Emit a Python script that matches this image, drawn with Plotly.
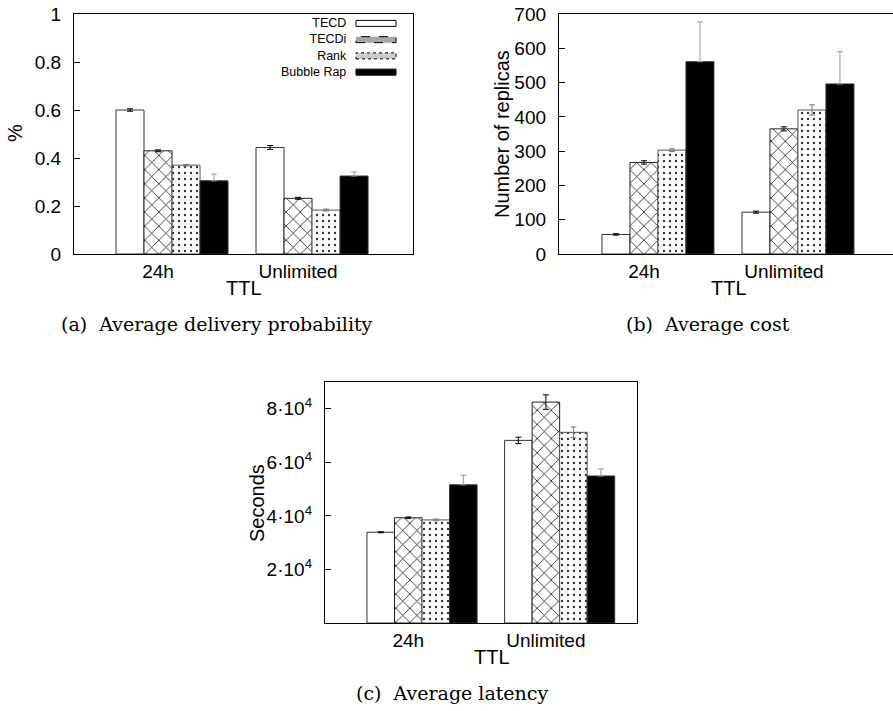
import plotly.graph_objects as go

W, H = 893, 711

categories = ["24h", "Unlimited"]
series = ["TECD", "TECDi", "Rank", "Bubble Rap"]

# (a) Average delivery probability
prob = {
    "TECD": [0.600, 0.444],
    "TECDi": [0.430, 0.232],
    "Rank": [0.370, 0.183],
    "Bubble Rap": [0.305, 0.325],
}
prob_err = {
    "TECD": [0.005, 0.008],
    "TECDi": [0.004, 0.004],
    "Rank": [0.003, 0.004],
    "Bubble Rap": [0.028, 0.017],
}

# (b) Average cost
cost = {
    "TECD": [57, 122],
    "TECDi": [267, 365],
    "Rank": [303, 420],
    "Bubble Rap": [561, 496],
}
cost_err = {
    "TECD": [2, 3],
    "TECDi": [5, 6],
    "Rank": [4, 15],
    "Bubble Rap": [116, 94],
}

# (c) Average latency
latency = {
    "TECD": [33900, 68200],
    "TECDi": [39300, 82500],
    "Rank": [38500, 71200],
    "Bubble Rap": [51600, 54900],
}
latency_err = {
    "TECD": [200, 1200],
    "TECDi": [300, 2700],
    "Rank": [300, 2000],
    "Bubble Rap": [3600, 2600],
}

prob_ticks = [0, 0.2, 0.4, 0.6, 0.8, 1]
prob_ticktext = ["0", "0.2", "0.4", "0.6", "0.8", "1"]
cost_ticks = [0, 100, 200, 300, 400, 500, 600, 700]
lat_ticks = [20000, 40000, 60000, 80000]
lat_ticktext = ["2·10<sup>4</sup>", "4·10<sup>4</sup>", "6·10<sup>4</sup>", "8·10<sup>4</sup>"]

SANS = "Liberation Sans"
SERIF = "DejaVu Serif"
FS = 19
TITLE_FS = 20

styles = {
    "TECD": dict(color="white", line=dict(color="#333333", width=1)),
    "TECDi": dict(color="white", line=dict(color="#222222", width=1),
                  pattern=dict(shape="x", fgcolor="black", bgcolor="white", size=10, solidity=0.14)),
    "Rank": dict(color="white", line=dict(color="#555555", width=1),
                 pattern=dict(shape=".", fgcolor="#333333", bgcolor="white", size=6, solidity=0.12)),
    "Bubble Rap": dict(color="black", line=dict(color="#333333", width=1)),
}
err_colors = {"TECD": "black", "TECDi": "black", "Rank": "#777777", "Bubble Rap": "#999999"}
# the lower half of an error bar is hidden inside the solid black bar in the reference
hide_lower = {"TECD": False, "TECDi": False, "Rank": False, "Bubble Rap": True}
offsets = {"TECD": -0.3, "TECDi": -0.1, "Rank": 0.1, "Bubble Rap": 0.3}
BAR_W = 0.2


def px_x(p):
    return p / W


def px_y(p):
    return 1 - p / H


fig = go.Figure()

panels = [
    (prob, prob_err, "x", "y"),
    (cost, cost_err, "x2", "y2"),
    (latency, latency_err, "x3", "y3"),
]
for data, err, xa, ya in panels:
    for s in series:
        e = dict(type="data", array=err[s], visible=True,
                 color=err_colors[s], thickness=1, width=3)
        if hide_lower[s]:
            e["symmetric"] = False
            e["arrayminus"] = [0 for _ in err[s]]
        fig.add_trace(go.Bar(
            x=list(range(len(categories))),
            y=data[s],
            name=s,
            width=BAR_W,
            offset=offsets[s],
            marker=styles[s],
            error_y=e,
            xaxis=xa, yaxis=ya,
            showlegend=False,
        ))

axis_common = dict(showline=True, linecolor="black", linewidth=1.3, mirror=True,
                   showgrid=False, zeroline=False, automargin=False,
                   tickfont=dict(family=SANS, size=FS, color="black"))

xcommon = dict(axis_common, tickmode="array", tickvals=[0, 1], ticktext=categories, ticks="")
ycommon = dict(axis_common, ticks="inside", ticklen=6, tickcolor="black", tickwidth=1,
               ticklabelstandoff=8)

fig.update_layout(
    template="none",
    width=W, height=H,
    margin=dict(l=0, r=0, t=0, b=0, pad=0),
    paper_bgcolor="white", plot_bgcolor="white",
    barmode="overlay",
    xaxis=dict(xcommon, domain=[px_x(74), px_x(413)], range=[-0.6, 1.821], anchor="y"),
    yaxis=dict(ycommon, domain=[px_y(254), px_y(14)], range=[0, 1],
               tickvals=prob_ticks, ticktext=prob_ticktext, anchor="x"),
    xaxis2=dict(xcommon, domain=[px_x(559), 1.0], range=[-0.607, 1.779], anchor="y2"),
    yaxis2=dict(ycommon, domain=[px_y(254), px_y(14)], range=[0, 700],
                tickvals=cost_ticks, anchor="x2"),
    xaxis3=dict(xcommon, domain=[px_x(325), px_x(637)], range=[-0.605, 1.662], anchor="y3"),
    yaxis3=dict(ycommon, domain=[px_y(623), px_y(382)], range=[0, 90000],
                tickvals=lat_ticks, ticktext=lat_ticktext, anchor="x3"),
)

annotations = []


def ann(text, x, y, size=TITLE_FS, family=SANS, angle=0, xanchor="center", align="center"):
    annotations.append(dict(text=text, x=px_x(x), y=px_y(y), xref="paper", yref="paper",
                            showarrow=False, textangle=angle, xanchor=xanchor, yanchor="middle",
                            align=align,
                            font=dict(family=family, size=size, color="black")))


# axis titles
ann("%", 15, 133, angle=-90)
ann("Number of replicas", 502, 134, angle=-90)
ann("Seconds", 257, 503, angle=-90)
ann("TTL", 244, 288)
ann("TTL", 729, 288)
ann("TTL", 492, 657)

# captions
ann("(a)  Average delivery probability", 217, 324, size=19, family=SERIF)
ann("(b)  Average cost", 708, 324, size=19, family=SERIF)
ann("(c)  Average latency", 452, 693, size=19, family=SERIF)

# legend for panel (a): text right-aligned, sample on the right
LEG_FS = 12.5
leg_center = 47.75
leg_step = LEG_FS * 1.3
legend_rows = [leg_center + (i - 1.5) * leg_step for i in range(len(series))]
legend_fill = {"TECD": "white", "TECDi": "#a8a8a8", "Rank": "#cccccc", "Bubble Rap": "black"}
legend_dash = {"TECD": "solid", "TECDi": "dash", "Rank": "dot", "Bubble Rap": "solid"}
ann("<br>".join(series), 349, leg_center, size=LEG_FS, xanchor="right", align="right")
shapes = []
for s, yy in zip(series, legend_rows):
    shapes.append(dict(type="rect", xref="paper", yref="paper",
                       x0=px_x(356), x1=px_x(396), y0=px_y(yy + 3), y1=px_y(yy - 3),
                       fillcolor=legend_fill[s],
                       line=dict(color="black", width=1, dash=legend_dash[s])))

fig.update_layout(annotations=annotations, shapes=shapes)

# remove the default 8px page margin so the figure sits at the window's top-left corner
fig.write_html("out.html", config={"displayModeBar": False},
               post_script="document.body.style.margin='0';")
